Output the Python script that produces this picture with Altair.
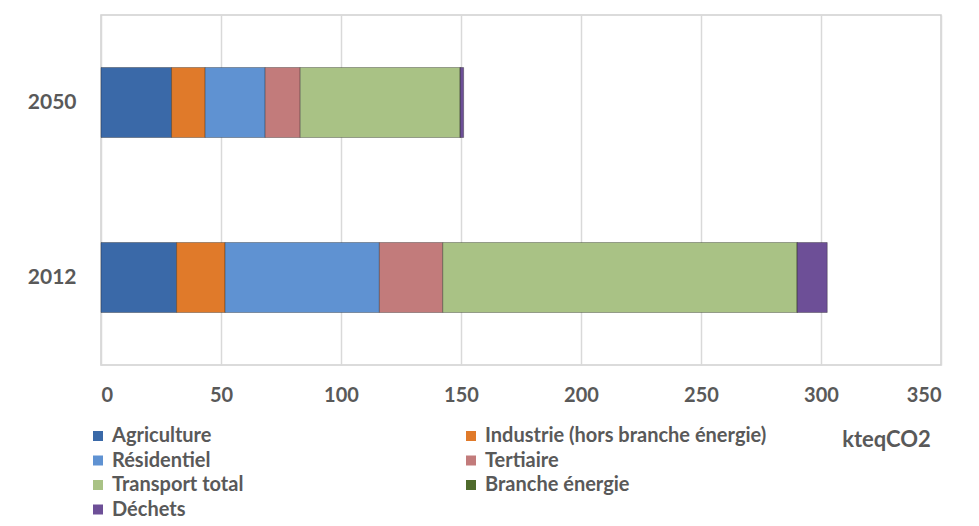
import altair as alt
import pandas as pd

years = ["2050", "2012"]
sectors = [
    "Agriculture",
    "Industrie (hors branche énergie)",
    "Résidentiel",
    "Tertiaire",
    "Transport total",
    "Branche énergie",
    "Déchets",
]
# legend is filled column by column: left column then right column
legend_order = [
    "Agriculture",
    "Résidentiel",
    "Transport total",
    "Déchets",
    "Industrie (hors branche énergie)",
    "Tertiaire",
    "Branche énergie",
]
values_2012 = [31.5, 20.2, 64.3, 26.4, 147.7, 0.0, 12.5]
values_2050 = [29.4, 14.0, 25.0, 14.6, 66.7, 0.0, 1.4]
colors = ["#3a69a8", "#e07a2a", "#5f92d2", "#c27b7b", "#a9c285", "#4f6b2c", "#6d4f97"]

rows = []
for year, vals in (("2012", values_2012), ("2050", values_2050)):
    for i, (s, v) in enumerate(zip(sectors, vals)):
        rows.append({"Année": year, "Secteur": s, "Valeur": v, "ordre": i})
df = pd.DataFrame(rows)

grey = "#595959"
font = "Lato"

chart = (
    alt.Chart(df)
    .mark_bar(stroke="#1a1a1a", strokeOpacity=0.35, strokeWidth=1)
    .encode(
        x=alt.X(
            "Valeur:Q",
            stack="zero",
            scale=alt.Scale(domain=[0, 350], nice=False),
            axis=alt.Axis(
                values=[0, 50, 100, 150, 200, 250, 300, 350],
                title="kteqCO2",
                titleX=785,
                titleY=74,
                titleAlign="center",
                titleBaseline="middle",
                titleFontSize=22,
                titleFontWeight="bold",
                titleColor=grey,
                titleFont=font,
                labelFontSize=20,
                labelFontWeight="bold",
                labelColor=grey,
                labelFont=font,
                labelPadding=20,
                ticks=False,
                domain=False,
                grid=True,
                gridColor="#d9d9d9",
                gridWidth=1.5,
            ),
        ),
        y=alt.Y(
            "Année:N",
            sort=years,
            scale=alt.Scale(paddingInner=0.6, paddingOuter=0.3),
            axis=alt.Axis(
                title=None,
                labelFontSize=21,
                labelFontWeight="bold",
                labelColor=grey,
                labelFont=font,
                labelPadding=25,
                ticks=False,
                domain=False,
            ),
        ),
        color=alt.Color(
            "Secteur:N",
            sort=sectors,
            scale=alt.Scale(domain=sectors, range=colors),
            legend=alt.Legend(
                title=None,
                values=legend_order,
                orient="none",
                legendX=-13,
                legendY=411,
                columns=2,
                columnPadding=217,
                rowPadding=4.5,
                symbolType="square",
                symbolSize=100,
                symbolStrokeWidth=0,
                labelFontSize=20,
                labelFontWeight="bold",
                labelColor=grey,
                labelFont=font,
                labelOffset=4,
                labelLimit=400,
                padding=0,
            ),
        ),
        order=alt.Order("ordre:Q", sort="ascending"),
    )
    .properties(
        width=840,
        height=350,
        autosize=alt.AutoSizeParams(type="none"),
        padding={"left": 93, "top": 7, "right": 30, "bottom": 160},
    )
    .configure_view(stroke="#cfcfcf", strokeWidth=1.5)
)

chart.save("out.html", embed_options={"renderer": "svg", "actions": False})
